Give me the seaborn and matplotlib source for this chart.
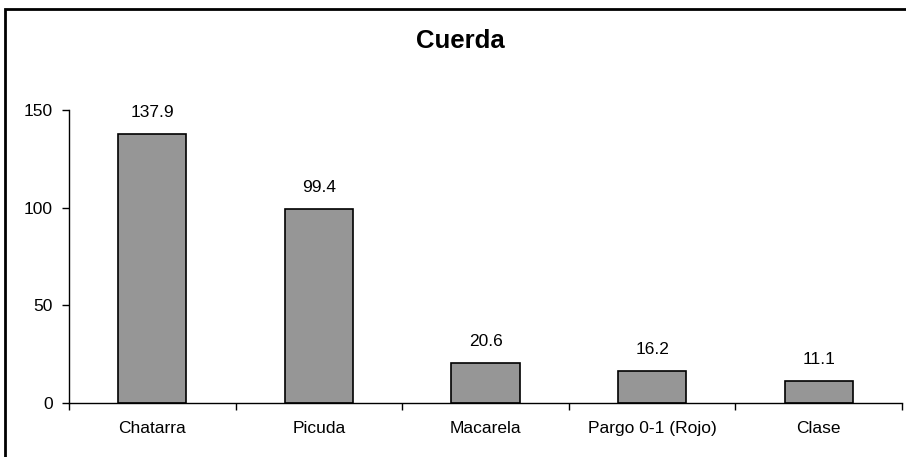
import numpy as np
import pandas as pd
import matplotlib
matplotlib.use("Agg")
import matplotlib.pyplot as plt
import seaborn as sns
from matplotlib.patches import Rectangle

# ========== 数据 ==========
especies = ["Chatarra", "Picuda", "Macarela", "Pargo 0-1 (Rojo)", "Clase"]
valores = [137.9, 99.4, 20.6, 16.2, 11.1]
titulo = "Cuerda"
y_ticks = [0, 50, 100, 150]

df = pd.DataFrame({"Especie": especies, "Valor": valores})

sns.set_style("white")
plt.rcParams["font.family"] = ["Liberation Sans", "DejaVu Sans"]
plt.rcParams["text.color"] = "black"
plt.rcParams["xtick.color"] = "black"
plt.rcParams["ytick.color"] = "black"
plt.rcParams["xtick.labelcolor"] = "black"
plt.rcParams["ytick.labelcolor"] = "black"

fig = plt.figure(figsize=(9.06, 4.57), dpi=100)
ax = fig.add_axes([69 / 906, 1 - 403 / 457, 833 / 906, 293 / 457])

sns.barplot(data=df, x="Especie", y="Valor", color="#969696", width=0.41,
            edgecolor="black", linewidth=1.2, saturation=1, ax=ax)
for b in ax.patches:
    b.set_facecolor("#969696")

ax.bar_label(ax.containers[0], labels=[f"{v:.1f}" for v in valores],
             padding=10, fontsize=12.5, color="black")

ax.set_xlim(-0.5, len(especies) - 0.5)
ax.set_ylim(0, 150)
ax.set_yticks(y_ticks)
ax.set_xlabel("")
ax.set_ylabel("")

# ticks en los límites de las categorías
ax.set_xticks(np.arange(len(especies) + 1) - 0.5, minor=True)
ax.tick_params(axis="x", which="major", length=0, pad=13, labelsize=12.5)
ax.tick_params(axis="x", which="minor", length=5, width=1, color="black",
               direction="out", bottom=True)
ax.tick_params(axis="y", length=5, width=1, color="black", direction="out",
               left=True, pad=6.5, labelsize=12.5)

for s in ["top", "right"]:
    ax.spines[s].set_visible(False)
for s in ["left", "bottom"]:
    ax.spines[s].set_color("black")
    ax.spines[s].set_linewidth(1)

fig.text(460 / 906, 1 - 41.5 / 457, titulo, ha="center", va="center",
         fontsize=18.5, fontweight="bold", color="black")

# marco exterior
top = 1 - 8.5 / 457
fig.add_artist(Rectangle((5 / 906, -0.1), 1.1, top + 0.1,
                         transform=fig.transFigure, fill=False,
                         edgecolor="black", linewidth=2))

fig.savefig("out.png", dpi=100)
